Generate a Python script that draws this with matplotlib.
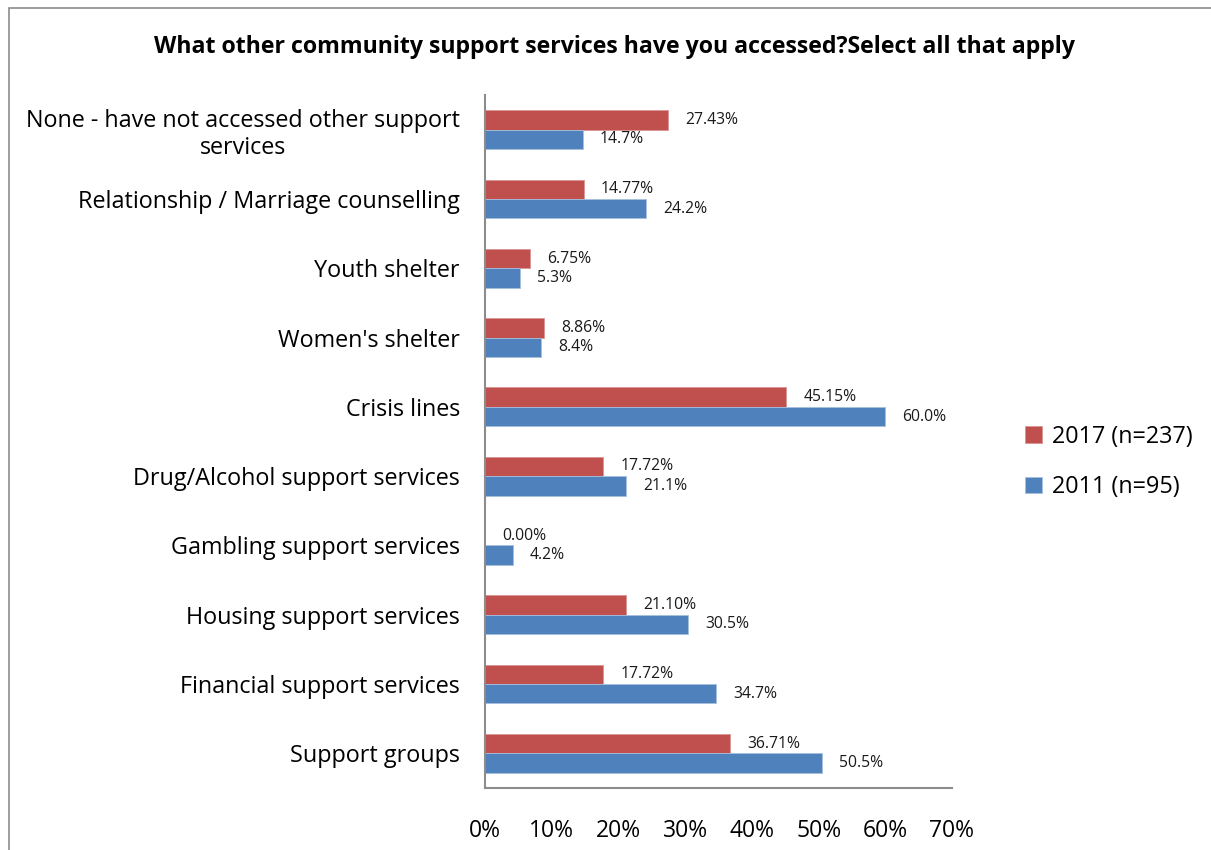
import matplotlib
matplotlib.use("Agg")
import matplotlib.pyplot as plt
from matplotlib.patches import Rectangle
import numpy as np

categories = [
    "None - have not accessed other support\nservices",
    "Relationship / Marriage counselling",
    "Youth shelter",
    "Women's shelter",
    "Crisis lines",
    "Drug/Alcohol support services",
    "Gambling support services",
    "Housing support services",
    "Financial support services",
    "Support groups",
]
vals_2017 = [27.43, 14.77, 6.75, 8.86, 45.15, 17.72, 0.00, 21.10, 17.72, 36.71]
vals_2011 = [14.7, 24.2, 5.3, 8.4, 60.0, 21.1, 4.2, 30.5, 34.7, 50.5]
labels_2017 = ["27.43%", "14.77%", "6.75%", "8.86%", "45.15%", "17.72%", "0.00%", "21.10%", "17.72%", "36.71%"]
labels_2011 = ["14.7%", "24.2%", "5.3%", "8.4%", "60.0%", "21.1%", "4.2%", "30.5%", "34.7%", "50.5%"]
series_names = ["2017 (n=237)", "2011 (n=95)"]
xticks = [0, 10, 20, 30, 40, 50, 60, 70]
title = "What other community support services have you accessed?Select all that apply"

RED = "#C0504D"
BLUE = "#4F81BD"
plt.rcParams["font.family"] = ["Open Sans", "DejaVu Sans"]

fig = plt.figure(figsize=(12.11, 8.5), dpi=100)
ax = fig.add_axes([485 / 1211, 1 - 788 / 850, (952 - 485) / 1211, (788 - 95) / 850])

# outer chart frame (open to the right and bottom)
fig.add_artist(Rectangle((9 / 1211, -0.05), 1.2, 1 - 8 / 850 + 0.05,
                         transform=fig.transFigure, fill=False,
                         edgecolor="#8c8c8c", linewidth=1.2))

n = len(categories)
y = np.arange(n)
h = 0.28
ax.barh(y - h / 2, vals_2017, height=h, color=RED, edgecolor="#d99594",
        linewidth=0.6, label=series_names[0])
ax.barh(y + h / 2, vals_2011, height=h, color=BLUE, edgecolor="#a7c0de",
        linewidth=0.6, label=series_names[1])

for yi, v, s in zip(y, vals_2017, labels_2017):
    ax.annotate(s, (v, yi - h / 2), xytext=(17, 0), textcoords="offset pixels",
                va="center", ha="left", fontsize=11.3, color="#1a1a1a")
for yi, v, s in zip(y, vals_2011, labels_2011):
    ax.annotate(s, (v, yi + h / 2), xytext=(17, 0), textcoords="offset pixels",
                va="center", ha="left", fontsize=11.3, color="#1a1a1a")

ax.set_ylim(n - 0.5, -0.5)
ax.set_xlim(0, 70)
ax.set_yticks(y)
ax.set_yticklabels(categories, fontsize=16.8)
for lab in ax.get_yticklabels():
    lab.set_multialignment("center")
ax.tick_params(axis="y", length=0, pad=18)
ax.set_xticks(xticks)
ax.set_xticklabels([f"{t}%" for t in xticks], fontsize=16.5)
ax.tick_params(axis="x", length=0, pad=22)

for side in ("top", "right"):
    ax.spines[side].set_visible(False)
for side in ("left", "bottom"):
    ax.spines[side].set_color("#8c8c8c")
    ax.spines[side].set_linewidth(1.5)

fig.text(615 / 1211, 1 - 47 / 850, title, ha="center", va="center",
         fontsize=16.7, fontweight="bold", color="black")

fig.legend(loc="center left", bbox_to_anchor=(1016 / 1211, 1 - 462 / 850),
           frameon=False, fontsize=16.8, handlelength=0.7, handleheight=0.7,
           handletextpad=0.45, labelspacing=1.15, borderaxespad=0)

fig.savefig("out.png", dpi=100)
